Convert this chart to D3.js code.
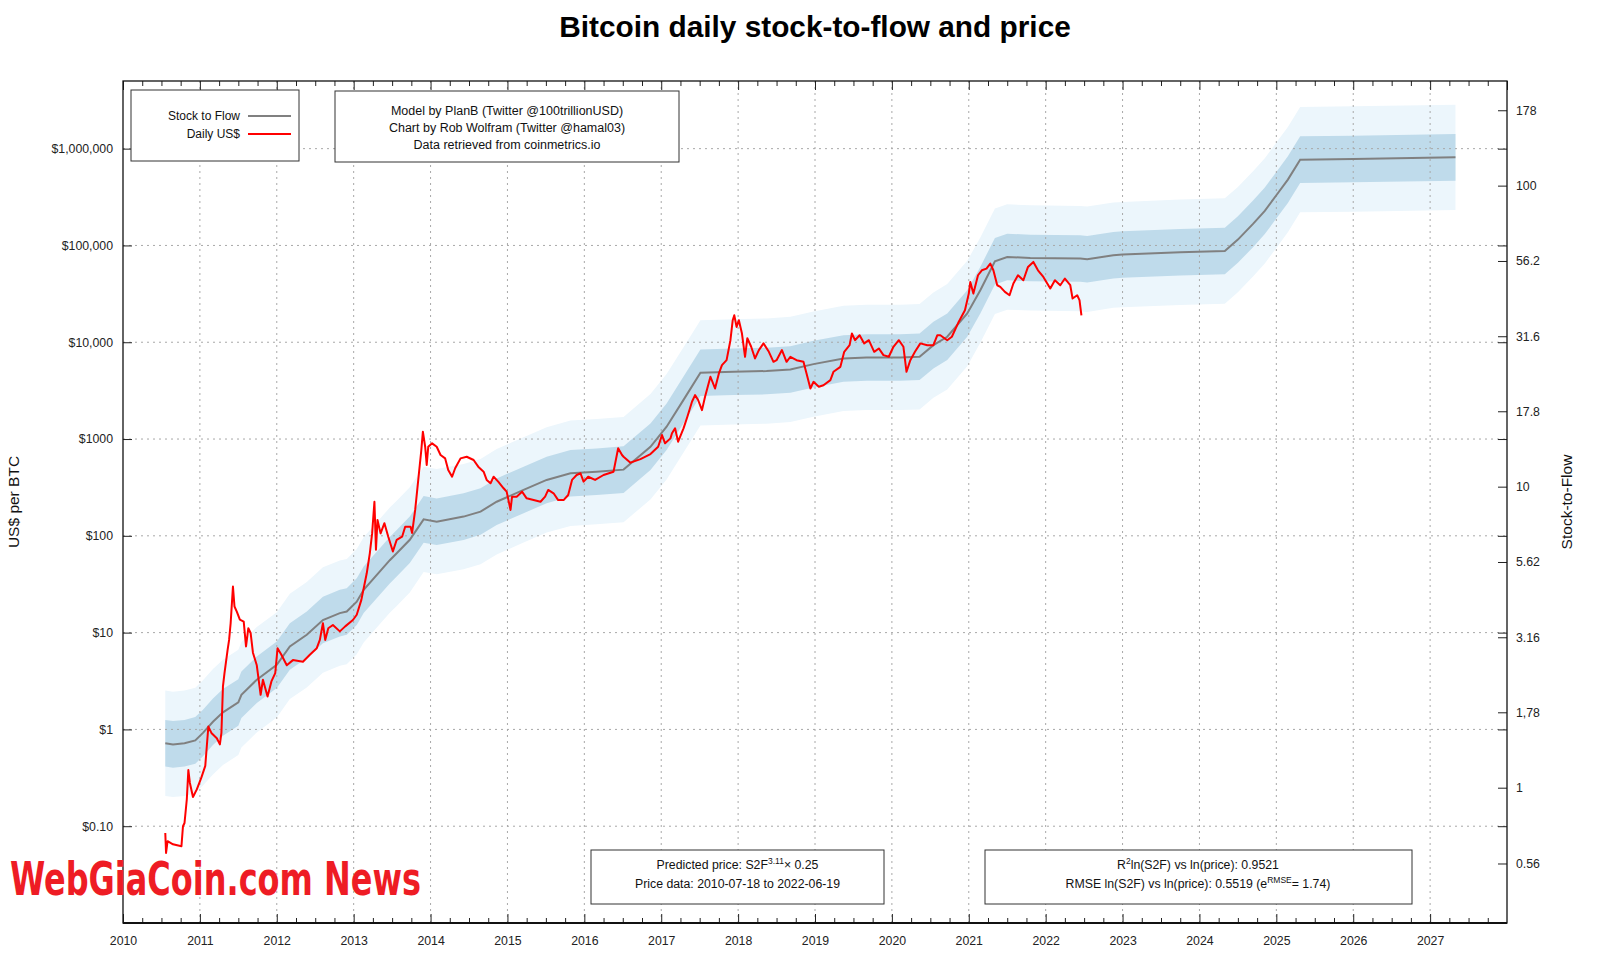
<!DOCTYPE html>
<html><head><meta charset="utf-8">
<script src="https://cdn.jsdelivr.net/npm/d3@7"></script>
<style>
body{margin:0;background:#fff;}
svg{display:block;font-family:"Liberation Sans",Arial,Helvetica,sans-serif;}
</style>
</head><body>
<svg id="chart" width="1600" height="960"></svg>
<script>
// ---------------- DATA ----------------
const modelYears = [2010.55,2010.65,2010.80,2010.94,2011.04,2011.17,2011.30,2011.50,2011.54,2011.74,2012.00,2012.17,2012.39,2012.60,2012.82,2012.91,2013.04,2013.13,2013.47,2013.56,2013.73,2013.91,2014.08,2014.43,2014.65,2014.86,2015.21,2015.51,2015.82,2016.16,2016.51,2016.86,2017.07,2017.29,2017.51,2017.94,2018.37,2018.68,2018.98,2019.37,2019.67,2020.11,2020.36,2020.54,2020.72,2020.98,2021.15,2021.34,2021.50,2021.80,2022.45,2022.54,2022.88,2023.00,2023.75,2024.33,2024.50,2024.70,2024.85,2025.00,2025.15,2025.31,2026.00,2027.33];
const modelPrice = [0.72,0.70,0.72,0.77,0.92,1.2,1.50,1.90,2.28,3.26,4.65,7.2,9.5,13.5,15.9,16.5,20.9,27.7,56,66,91,148,140,158,178,225,298,378,443,460,483,832,1340,2540,4830,4950,5040,5240,5940,6800,6970,6970,7080,9330,11400,19800,34500,68700,76000,74300,73200,72000,79300,80500,85000,87700,115000,168000,228000,330000,479000,770000,782000,813000];

const priceYears = [2010.55,2010.56,2010.58,2010.65,2010.76,2010.78,2010.80,2010.83,2010.85,2010.87,2010.91,2010.96,2011.02,2011.07,2011.09,2011.11,2011.15,2011.22,2011.26,2011.28,2011.30,2011.32,2011.36,2011.38,2011.40,2011.43,2011.45,2011.48,2011.52,2011.57,2011.60,2011.63,2011.66,2011.69,2011.74,2011.79,2011.82,2011.88,2011.93,2011.98,2012.01,2012.06,2012.13,2012.21,2012.34,2012.43,2012.52,2012.56,2012.60,2012.63,2012.67,2012.73,2012.82,2012.89,2012.99,2013.04,2013.10,2013.17,2013.21,2013.24,2013.27,2013.29,2013.31,2013.35,2013.40,2013.45,2013.51,2013.56,2013.63,2013.67,2013.74,2013.76,2013.80,2013.84,2013.88,2013.90,2013.93,2013.95,2013.97,2014.02,2014.08,2014.13,2014.19,2014.23,2014.28,2014.32,2014.39,2014.47,2014.56,2014.62,2014.69,2014.73,2014.78,2014.82,2014.88,2014.95,2014.99,2015.04,2015.06,2015.12,2015.19,2015.25,2015.34,2015.43,2015.49,2015.53,2015.60,2015.66,2015.73,2015.79,2015.84,2015.90,2015.95,2015.99,2016.05,2016.14,2016.25,2016.38,2016.44,2016.49,2016.51,2016.60,2016.73,2016.86,2016.96,2017.01,2017.05,2017.12,2017.14,2017.18,2017.22,2017.29,2017.34,2017.40,2017.44,2017.48,2017.53,2017.57,2017.64,2017.70,2017.75,2017.79,2017.85,2017.90,2017.93,2017.95,2017.98,2018.01,2018.05,2018.09,2018.12,2018.17,2018.22,2018.27,2018.33,2018.40,2018.46,2018.50,2018.57,2018.63,2018.68,2018.76,2018.85,2018.89,2018.94,2018.98,2019.05,2019.11,2019.20,2019.24,2019.33,2019.38,2019.45,2019.48,2019.52,2019.58,2019.64,2019.70,2019.77,2019.83,2019.89,2019.96,2020.02,2020.09,2020.15,2020.19,2020.24,2020.30,2020.37,2020.46,2020.54,2020.59,2020.63,2020.72,2020.78,2020.87,2020.95,2021.00,2021.02,2021.06,2021.12,2021.17,2021.23,2021.28,2021.32,2021.37,2021.41,2021.47,2021.53,2021.58,2021.64,2021.71,2021.77,2021.84,2021.90,2021.97,2022.06,2022.12,2022.19,2022.25,2022.32,2022.35,2022.41,2022.44,2022.465];
const priceValues = [0.085,0.053,0.07,0.065,0.062,0.10,0.108,0.19,0.38,0.28,0.20,0.24,0.32,0.42,0.67,1.07,0.92,0.81,0.70,0.92,2.78,3.82,6.6,8.4,12.5,29.9,18.6,16.5,13.6,13.0,7.2,11.1,9.9,6.2,4.6,2.28,3.26,2.19,3.13,3.82,6.9,5.9,4.6,5.2,5.0,5.9,6.9,8.4,12.5,8.4,11.1,12.0,10.3,11.6,13.5,15.3,21.8,41,66,106,225,72,146,106,135,98,69,91,98,124,124,107,185,378,770,1190,832,540,832,903,832,684,631,478,408,499,631,656,607,518,460,378,349,408,363,310,286,185,254,254,286,244,234,225,254,298,275,234,234,264,378,425,443,363,408,378,425,460,802,684,656,570,620,700,832,1099,903,1016,1146,1290,938,1290,1700,2430,2840,2530,1990,2740,4400,3330,4760,5800,6530,10500,16900,19000,14400,16900,12300,7080,11000,8980,6800,8300,9730,7960,6280,6530,8300,6280,7080,6530,6280,4760,3330,3900,3470,3600,4060,4950,5570,7960,9330,12300,10500,11800,9730,10500,7960,8630,7360,7080,8980,10500,8980,4950,6530,7960,9730,9330,9330,11800,11800,10500,11400,16300,21400,31800,42000,31800,49200,55400,57700,65000,55400,38800,37300,33100,30600,40500,49200,43700,60000,67600,55400,47300,35900,43700,38800,45500,38800,28300,30600,27200,19000];

const xTickYears = [2010,2011,2012,2013,2014,2015,2016,2017,2018,2019,2020,2021,2022,2023,2024,2025,2026,2027];
const yTickValues = [0.1,1,10,100,1000,10000,100000,1000000];
const yTickLabels = ["$0.10","$1","$10","$100","$1000","$10,000","$100,000","$1,000,000"];
const s2fTickValues = [0.56,1,1.78,3.16,5.62,10,17.8,31.6,56.2,100,178];
const s2fTickLabels = ["0.56","1","1,78","3.16","5.62","10","17.8","31.6","56.2","100","178"];
const s2fExponent = 3.11, s2fCoef = 0.25;
const innerBandFactor = 1.74;   // e^RMSE
const outerBandFactor = 3.5;

// ---------------- LAYOUT ----------------
const M = {left:123, right:1507, top:81, bottom:923};
const svg = d3.select("#chart");
const x = d3.scaleLinear().domain([2010, 2028]).range([M.left, M.right]);
const y = d3.scaleLog().domain([0.01, 5e6]).range([M.bottom, M.top]);
const priceToS2F = p => Math.pow(p / s2fCoef, 1 / s2fExponent);
const yS2F = d3.scaleLog().domain([priceToS2F(0.01), priceToS2F(5e6)]).range([M.bottom, M.top]);

const model = modelYears.map((t,i)=>({t, p:modelPrice[i]}));
const price = priceYears.map((t,i)=>({t, p:priceValues[i]}));

// bands
const area = f => d3.area().x(d=>x(d.t)).y0(d=>y(d.p/f)).y1(d=>y(d.p*f));
svg.append("path").datum(model).attr("d", area(outerBandFactor)).attr("fill","#ecf6fc");
svg.append("path").datum(model).attr("d", area(innerBandFactor)).attr("fill","#bfdbeb");

// grid
const grid = svg.append("g").attr("stroke","#a8a8a8").attr("stroke-width",1).attr("stroke-dasharray","2,4");
xTickYears.filter(d=>d>2010).forEach(t=>{
  grid.append("line").attr("x1",x(t)).attr("x2",x(t)).attr("y1",M.top).attr("y2",M.bottom);
});
yTickValues.forEach(v=>{
  grid.append("line").attr("x1",M.left).attr("x2",M.right).attr("y1",y(v)).attr("y2",y(v));
});

// lines
const line = d3.line().x(d=>x(d.t)).y(d=>y(d.p));
svg.append("path").datum(model).attr("d", line).attr("fill","none").attr("stroke","#808080").attr("stroke-width",2);
svg.append("path").datum(price).attr("d", line).attr("fill","none").attr("stroke","#ff0000").attr("stroke-width",2).attr("stroke-linejoin","round");

// axes
const tickColor = "#222";
function styleAxis(g){
  g.select(".domain").remove();
  g.selectAll(".tick line").attr("stroke",tickColor).attr("stroke-width",1);
  g.selectAll(".tick text").attr("fill","#222").style("font-size","12.3px").style("font-family","'Liberation Sans',Arial,sans-serif");
}
const quarters = d3.range(2010, 2028.01, 0.25).filter(q => Math.abs(q - Math.round(q)) > 0.01);
// bottom
svg.append("g").attr("transform",`translate(0,${M.bottom})`)
  .call(d3.axisBottom(x).tickValues(xTickYears).tickFormat(d3.format("d")).tickSizeInner(-9).tickSizeOuter(0).tickPadding(13))
  .call(styleAxis);
svg.append("g").attr("transform",`translate(0,${M.bottom})`)
  .call(d3.axisBottom(x).tickValues(quarters).tickFormat("").tickSizeInner(-5).tickSizeOuter(0))
  .call(styleAxis);
// top
svg.append("g").attr("transform",`translate(0,${M.top})`)
  .call(d3.axisTop(x).tickValues(xTickYears.concat([2028])).tickFormat("").tickSizeInner(-9).tickSizeOuter(0))
  .call(styleAxis);
svg.append("g").attr("transform",`translate(0,${M.top})`)
  .call(d3.axisTop(x).tickValues(quarters).tickFormat("").tickSizeInner(-5).tickSizeOuter(0))
  .call(styleAxis);
// left
svg.append("g").attr("transform",`translate(${M.left},0)`)
  .call(d3.axisLeft(y).tickValues(yTickValues).tickFormat((d,i)=>yTickLabels[i]).tickSizeInner(-9).tickSizeOuter(0).tickPadding(10))
  .call(styleAxis);
// right: mirrored price ticks + S2F ticks
svg.append("g").attr("transform",`translate(${M.right},0)`)
  .call(d3.axisRight(y).tickValues(yTickValues).tickFormat("").tickSizeInner(-9).tickSizeOuter(0))
  .call(styleAxis);
svg.append("g").attr("transform",`translate(${M.right},0)`)
  .call(d3.axisRight(yS2F).tickValues(s2fTickValues).tickFormat((d,i)=>s2fTickLabels[i]).tickSizeInner(-9).tickSizeOuter(0).tickPadding(9))
  .call(styleAxis);

// frame
svg.append("rect").attr("x",M.left).attr("y",M.top).attr("width",M.right-M.left).attr("height",M.bottom-M.top)
  .attr("fill","none").attr("stroke","#111").attr("stroke-width",1.3);
svg.append("line").attr("x1",M.left).attr("x2",M.right).attr("y1",M.bottom).attr("y2",M.bottom).attr("stroke","#111").attr("stroke-width",2);

// title
svg.append("text").attr("x",(M.left+M.right)/2).attr("y",37).attr("text-anchor","middle")
  .style("font-size","29.8px").style("font-weight","bold").attr("fill","#000")
  .text("Bitcoin daily stock-to-flow and price");

// axis titles
svg.append("text").attr("transform","translate(19,502) rotate(-90)").attr("text-anchor","middle")
  .style("font-size","15.5px").attr("fill","#111").text("US$ per BTC");
svg.append("text").attr("transform","translate(1572,502) rotate(-90)").attr("text-anchor","middle")
  .style("font-size","15.5px").attr("fill","#111").text("Stock-to-Flow");

// boxes
function box(x0,y0,w,h){
  svg.append("rect").attr("x",x0).attr("y",y0).attr("width",w).attr("height",h)
    .attr("fill","#fff").attr("stroke","#333").attr("stroke-width",1);
}
const boxFont = "12.3px";
// legend
box(131,90,168,71);
const legendItems = [{label:"Stock to Flow", color:"#808080", yy:116},{label:"Daily US$", color:"#ff0000", yy:134}];
legendItems.forEach(it=>{
  svg.append("text").attr("x",240).attr("y",it.yy+4).attr("text-anchor","end").style("font-size","12px").attr("fill","#111").text(it.label);
  svg.append("line").attr("x1",248).attr("x2",291).attr("y1",it.yy).attr("y2",it.yy).attr("stroke",it.color).attr("stroke-width",2);
});
// credits
box(335,91,344,71);
["Model by PlanB (Twitter @100trillionUSD)","Chart by Rob Wolfram (Twitter @hamal03)","Data retrieved from coinmetrics.io"].forEach((s,i)=>{
  svg.append("text").attr("x",507).attr("y",115+i*17).attr("text-anchor","middle").style("font-size","12.5px").attr("fill","#111").text(s);
});
// predicted
box(591,850,293,54);
const t1 = svg.append("text").attr("x",737.5).attr("y",869).attr("text-anchor","middle").style("font-size",boxFont).attr("fill","#111");
t1.append("tspan").text("Predicted price: S2F");
t1.append("tspan").attr("dy",-5).style("font-size","8.5px").text(s2fExponent.toFixed(2));
t1.append("tspan").attr("dy",5).text("× " + s2fCoef.toFixed(2));
svg.append("text").attr("x",737.5).attr("y",887.5).attr("text-anchor","middle").style("font-size",boxFont).attr("fill","#111")
  .text("Price data: 2010-07-18 to 2022-06-19");
// stats
box(985,850,427,54);
const t2 = svg.append("text").attr("x",1198).attr("y",869).attr("text-anchor","middle").style("font-size",boxFont).attr("fill","#111");
t2.append("tspan").text("R");
t2.append("tspan").attr("dy",-5).style("font-size","8.5px").text("2");
t2.append("tspan").attr("dy",5).text("ln(S2F) vs ln(price): 0.9521");
const t3 = svg.append("text").attr("x",1198).attr("y",887.5).attr("text-anchor","middle").style("font-size",boxFont).attr("fill","#111");
t3.append("tspan").text("RMSE ln(S2F) vs ln(price): 0.5519 (e");
t3.append("tspan").attr("dy",-5).style("font-size","8.5px").text("RMSE");
t3.append("tspan").attr("dy",5).text("= 1.74)");

// watermark
svg.append("text").attr("x",10).attr("y",895).attr("textLength",411).attr("lengthAdjust","spacingAndGlyphs")
  .style("font-family","'DejaVu Sans Condensed','DejaVu Sans',sans-serif").style("font-weight","bold").style("font-size","47px")
  .attr("fill","#ee1c24").text("WebGiaCoin.com News");
</script>
</body></html>
